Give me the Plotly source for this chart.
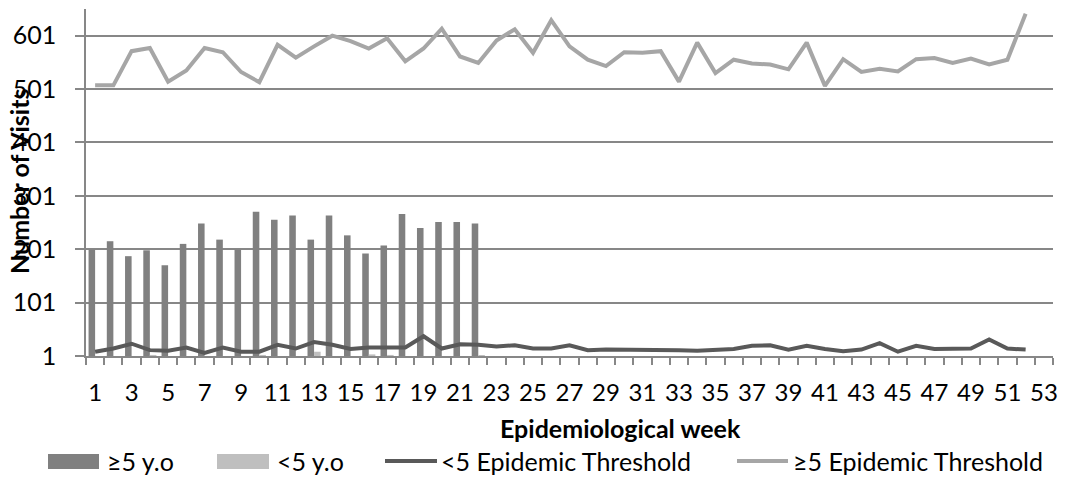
import plotly.graph_objects as go

# ---------------- data ----------------
weeks = list(range(1, 53))
bar_weeks = list(range(1, 23))

ge5_visits = [200, 216, 188, 199, 171, 211, 249, 219, 200, 271, 256, 264, 219, 264,
              227, 193, 208, 267, 241, 252, 252, 249]
lt5_visits = [1, 1, 1, 3, 1, 1, 1, 1, 1, 3, 1, 1, 9, 1, 1, 4, 3, 1, 1, 1, 1, 2]

lt5_threshold = [9, 15, 24, 12, 11, 17, 7, 17, 9, 9, 22, 15, 27, 22, 14, 17, 17, 17, 38, 15,
                 23, 22, 19, 21, 15, 15, 21, 12, 13, 13, 12, 12, 12, 11, 12, 14, 20, 21, 13, 20,
                 14, 10, 13, 25, 9, 20, 14, 15, 15, 32, 15, 13]
ge5_threshold = [508, 508, 572, 578, 515, 536, 578, 570, 533, 514, 584, 560, 581, 601, 591,
                 577, 596, 553, 577, 614, 562, 550, 592, 613, 569, 630, 581, 556, 544, 570,
                 569, 572, 515, 588, 531, 556, 549, 547, 538, 588, 507, 557, 533, 539, 534,
                 557, 559, 550, 558, 547, 556, 642]

x_tick_vals = list(range(1, 54, 2))
x_tick_text = [str(v) for v in x_tick_vals]
y_tick_vals = [1, 101, 201, 301, 401, 501, 601]
y_tick_text = [str(v) for v in y_tick_vals]

legend_labels = ["≥5 y.o", "<5 y.o", "<5 Epidemic Threshold", "≥5 Epidemic Threshold"]

C_GE5_BAR = "#808080"
C_LT5_BAR = "#bfbfbf"
C_LT5_LINE = "#595959"
C_GE5_LINE = "#a6a6a6"
GRID = "#878787"
FONT = "Lato, 'Noto Sans', sans-serif"

W, H = 1068, 477
L, R, T, B = 86, 15, 9, 121
PW, PH = W - L - R, H - T - B


def px(x):
    return (x - L) / PW


def py(y):
    return (H - B - y) / PH


fig = go.Figure()
fig.add_trace(go.Bar(x=bar_weeks, y=ge5_visits, marker=dict(color=C_GE5_BAR, line=dict(width=0)),
                     name=legend_labels[0]))
fig.add_trace(go.Bar(x=bar_weeks, y=lt5_visits, marker=dict(color=C_LT5_BAR, line=dict(width=0)),
                     name=legend_labels[1]))
fig.add_trace(go.Scatter(x=weeks, y=lt5_threshold, mode="lines",
                         line=dict(color=C_LT5_LINE, width=4), name=legend_labels[2]))
fig.add_trace(go.Scatter(x=weeks, y=ge5_threshold, mode="lines",
                         line=dict(color=C_GE5_LINE, width=4), name=legend_labels[3]))

boundaries = [v + 0.5 for v in range(0, 54)]

fig.update_layout(
    width=W, height=H,
    margin=dict(l=L, r=R, t=T, b=B),
    paper_bgcolor="white", plot_bgcolor="white",
    barmode="group", bargap=0.28, bargroupgap=0,
    showlegend=False,
    font=dict(family=FONT, size=24, color="black"),
    xaxis=dict(
        range=[0.5, 53.5], tickmode="array", tickvals=x_tick_vals, ticktext=x_tick_text,
        ticks="", showgrid=False, zeroline=False,
        showline=True, linecolor=GRID, linewidth=1.5,
        ticklabelstandoff=14,
        tickfont=dict(family=FONT, size=24, color="black"),
        minor=dict(tickmode="array", tickvals=boundaries, ticks="outside", ticklen=7,
                   tickcolor=GRID, tickwidth=1.5, showgrid=False),
    ),
    yaxis=dict(
        range=[1, 651], tickmode="array", tickvals=y_tick_vals, ticktext=y_tick_text,
        ticks="outside", ticklen=9, tickcolor=GRID, tickwidth=1.5,
        showgrid=True, gridcolor=GRID, gridwidth=1.5, zeroline=False,
        showline=True, linecolor=GRID, linewidth=1.5,
        ticklabelstandoff=14,
        tickfont=dict(family=FONT, size=25, color="black"),
    ),
)

annotations = [
    dict(text="<b>Number of Visits</b>", x=px(19), y=py(181), xref="paper", yref="paper",
         textangle=-90, showarrow=False, xanchor="center", yanchor="middle",
         font=dict(family=FONT, size=25, color="black")),
    dict(text="<b>Epidemiological week</b>", x=px(620), y=py(428), xref="paper", yref="paper",
         showarrow=False, xanchor="center", yanchor="middle",
         font=dict(family=FONT, size=25, color="black")),
]

# manual legend
legend_y = 461
text_x = [105, 275, 439, 791]
for lbl, tx in zip(legend_labels, text_x):
    annotations.append(dict(text=lbl, x=px(tx), y=py(legend_y), xref="paper", yref="paper",
                            showarrow=False, xanchor="left", yanchor="middle",
                            font=dict(family=FONT, size=25, color="black")))

shapes = [
    dict(type="rect", xref="paper", yref="paper", x0=px(48), x1=px(99), y0=py(469), y1=py(454),
         fillcolor=C_GE5_BAR, line=dict(width=0)),
    dict(type="rect", xref="paper", yref="paper", x0=px(217), x1=px(269), y0=py(469), y1=py(454),
         fillcolor=C_LT5_BAR, line=dict(width=0)),
    dict(type="line", xref="paper", yref="paper", x0=px(385), x1=px(437), y0=py(legend_y),
         y1=py(legend_y), line=dict(color=C_LT5_LINE, width=4)),
    dict(type="line", xref="paper", yref="paper", x0=px(737), x1=px(788), y0=py(legend_y),
         y1=py(legend_y), line=dict(color=C_GE5_LINE, width=4)),
]

fig.update_layout(annotations=annotations, shapes=shapes)
fig.write_html("out.html")
